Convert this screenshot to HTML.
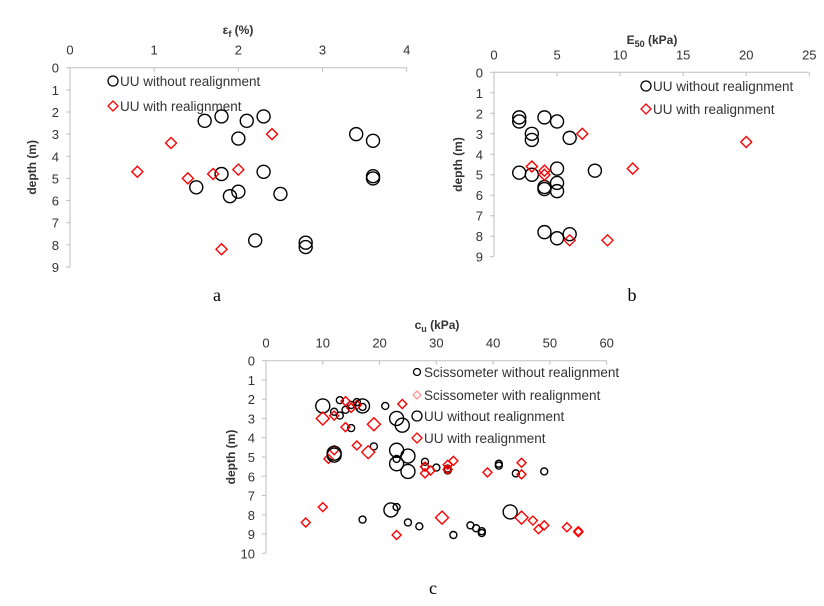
<!DOCTYPE html>
<html><head><meta charset="utf-8"><style>
body{margin:0;background:#fff;}
svg{display:block;font-family:"Liberation Sans",sans-serif;}
</style></head><body>
<svg id="fig" width="824" height="606"></svg>
<script>
// Chart a data
const aCircX=[1.6,1.8,2.1,2.3,2.0,3.4,3.6,2.3,1.8,3.6,3.6,1.5,2.0,1.9,2.5,2.2,2.8,2.8];
const aCircY=[2.4,2.2,2.4,2.2,3.2,3.0,3.3,4.7,4.8,4.9,5.0,5.4,5.6,5.8,5.7,7.8,7.9,8.1];
const aDiaX=[2.4,1.2,0.8,1.4,1.7,2.0,1.8];
const aDiaY=[3.0,3.4,4.7,5.0,4.8,4.6,8.2];
const aXTicks=[0,1,2,3,4];
const aYTicks=[0,1,2,3,4,5,6,7,8,9];
// Chart b data
const bCircX=[2,2,4,5,3,3,6,2,3,5,8,5,4,4,5,4,6,5];
const bCircY=[2.2,2.4,2.2,2.4,3.0,3.3,3.2,4.9,5.0,4.7,4.8,5.4,5.6,5.7,5.8,7.8,7.9,8.1];
const bDiaX=[7,20,3,4,4,11,6,9];
const bDiaY=[3.0,3.4,4.6,4.8,5.0,4.7,8.2,8.2];
const bXTicks=[0,5,10,15,20,25];
const bYTicks=[0,1,2,3,4,5,6,7,8,9];
// Chart c data
const cSciX=[13,16,15,17,12,14,13,15,21,19,23,28,28,30,32,32,41,41,44,49,23,17,25,27,36,37,38,38,33];
const cSciY=[2.05,2.15,2.3,2.4,2.65,2.55,2.85,3.5,2.35,4.45,5.1,5.25,5.5,5.55,5.6,5.7,5.35,5.45,5.85,5.75,7.6,8.25,8.4,8.6,8.55,8.7,8.85,8.95,9.05];
const cSciRX=[14,15,16,24,12,14,16,11,12,28,29,28,32,33,32,39,45,45,10,7,23,47,48,49,53,55,55];
const cSciRY=[2.1,2.45,2.3,2.25,2.85,3.45,4.4,5.1,4.65,5.5,5.7,5.85,5.4,5.2,5.65,5.8,5.3,5.9,7.6,8.4,9.05,8.3,8.75,8.55,8.65,8.85,8.9];
const cUUX=[10,17,23,24,12,12,23,25,23,25,22,43];
const cUUY=[2.35,2.35,3.0,3.35,4.8,4.9,4.65,4.95,5.35,5.75,7.75,7.85];
const cUURX=[10,19,18,31,45];
const cUURY=[3.0,3.3,4.75,8.15,8.15];
const cXTicks=[0,10,20,30,40,50,60];
const cYTicks=[0,1,2,3,4,5,6,7,8,9,10];

const NS="http://www.w3.org/2000/svg";
const svg=document.getElementById('fig');
function mk(tag,attrs,parent){const e=document.createElementNS(NS,tag);for(const k in attrs)e.setAttribute(k,attrs[k]);(parent||svg).appendChild(e);return e;}
function txt(parent,x,y,s,opts){const t=mk('text',Object.assign({x:x,y:y,'font-size':13,fill:'#333'},opts||{}),parent);t.textContent=s;return t;}

function chart(cfg){
  const g=mk('g',{});
  
  
  const sx=v=>cfg.x0+(v-cfg.xmin)/(cfg.xmax-cfg.xmin)*(cfg.x1-cfg.x0);
  const sy=v=>cfg.y0+(v-cfg.ymin)/(cfg.ymax-cfg.ymin)*(cfg.y1-cfg.y0);
  const ax=mk('g',{},g);
  
  
  mk('line',{x1:cfg.x0,y1:cfg.y0,x2:cfg.x1,y2:cfg.y0,stroke:'#bfbfbf','stroke-width':1},ax);
  cfg.xt.forEach(v=>{mk('line',{x1:sx(v),y1:cfg.y0,x2:sx(v),y2:cfg.y0+4,stroke:'#bfbfbf'},ax);
    const t=txt(ax,sx(v),cfg.y0-13,String(v),{'text-anchor':'middle'});
    
    });
  const ay=mk('g',{},g);
  
  
  mk('line',{x1:cfg.x0,y1:cfg.y0,x2:cfg.x0,y2:cfg.y1,stroke:'#bfbfbf'},ay);
  cfg.yt.forEach(v=>{mk('line',{x1:cfg.x0-4,y1:sy(v),x2:cfg.x0,y2:sy(v),stroke:'#bfbfbf'},ay);
    const t=txt(ay,cfg.x0-11,sy(v)+5,String(v),{'text-anchor':'end'});
    
    });
  const xt=mk('text',{x:cfg.titleX,y:cfg.titleY,'font-size':12,'font-weight':'bold','text-anchor':'middle',fill:'#333'},g);
  xt.innerHTML=cfg.title;
  
  
  const yt=txt(g,0,0,'depth (m)',{'font-size':12,'font-weight':'bold','text-anchor':'middle',transform:`translate(${cfg.ytX},${(cfg.y0+cfg.y1)/2}) rotate(-90)`});
  
  
  const lab=mk('text',{x:cfg.labX,y:cfg.labY,'font-size':18,'font-family':'Liberation Serif, serif','text-anchor':'middle',fill:'#000'},g);
  lab.textContent=cfg.lab;
  
  
  cfg.series.forEach(s=>{
    const sg=mk('g',{},g);
    
    
    s.xs.forEach((xv,i)=>{
      const px=sx(xv),py=sy(s.ys[i]);let m;
      if(s.shape==='c')m=mk('circle',{cx:px,cy:py,r:s.r,fill:'none',stroke:s.color,'stroke-width':1.4},sg);
      else m=mk('path',{d:`M${px} ${py-s.r}L${px+s.r} ${py}L${px} ${py+s.r}L${px-s.r} ${py}Z`,fill:'none',stroke:s.color,'stroke-width':1.4},sg);
      
      
    });
    const lg=mk('g',{},g);
    
    
    const lx=s.lx,ly=s.ly,lr=s.lr||5;
    if(s.shape==='c')mk('circle',{cx:lx,cy:ly,r:lr,fill:'none',stroke:s.lcolor||s.color,'stroke-width':1.3},lg);
    else mk('path',{d:`M${lx} ${ly-lr}L${lx+lr} ${ly}L${lx} ${ly+lr}L${lx-lr} ${ly}Z`,fill:'none',stroke:s.lcolor||s.color,'stroke-width':1.3},lg);
    txt(lg,lx+7,ly+5,s.label,{'font-size':13.5});
  });
}

chart({name:'chart-a',x0:70,x1:406.7,y0:67.7,y1:267,xmin:0,xmax:4,ymin:0,ymax:9,xt:aXTicks,yt:aYTicks,
  title:'ε<tspan font-size="9" dy="3">f</tspan><tspan dy="-3"> (%)</tspan>',titleX:238,titleY:34,ytX:36,labX:217,labY:301,lab:'a',
  series:[{name:'series-uu-without',shape:'c',color:'#000',r:6.5,xs:aCircX,ys:aCircY,lx:113,ly:81,label:'UU without realignment'},
          {name:'series-uu-with',shape:'d',color:'#f00',r:5.5,xs:aDiaX,ys:aDiaY,lx:113,ly:106,label:'UU with realignment'}]});

chart({name:'chart-b',x0:494,x1:809.3,y0:72.3,y1:256.7,xmin:0,xmax:25,ymin:0,ymax:9,xt:bXTicks,yt:bYTicks,
  title:'E<tspan font-size="9" dy="3">50</tspan><tspan dy="-3"> (kPa)</tspan>',titleX:652,titleY:44,ytX:462,labX:632,labY:301,lab:'b',
  series:[{name:'series-uu-without',shape:'c',color:'#000',r:6.5,xs:bCircX,ys:bCircY,lx:646,ly:86,label:'UU without realignment'},
          {name:'series-uu-with',shape:'d',color:'#f00',r:5.5,xs:bDiaX,ys:bDiaY,lx:646,ly:109,label:'UU with realignment'}]});

chart({name:'chart-c',x0:266,x1:606.7,y0:360.7,y1:553.3,xmin:0,xmax:60,ymin:0,ymax:10,xt:cXTicks,yt:cYTicks,
  title:'c<tspan font-size="9" dy="3">u</tspan><tspan dy="-3"> (kPa)</tspan>',titleX:437,titleY:329,ytX:235,labX:433,labY:594,lab:'c',
  series:[{name:'series-scissometer-without',shape:'c',color:'#000',r:3.5,lr:3.5,xs:cSciX,ys:cSciY,lx:417,ly:372,label:'Scissometer without realignment'},
          {name:'series-scissometer-with',shape:'d',color:'#f00',r:4.5,lr:4,lcolor:'#f99',xs:cSciRX,ys:cSciRY,lx:417,ly:395,label:'Scissometer with realignment'},
          {name:'series-uu-without',shape:'c',color:'#000',r:7,lr:5,xs:cUUX,ys:cUUY,lx:417,ly:416,label:'UU without realignment'},
          {name:'series-uu-with',shape:'d',color:'#f00',r:6.5,lr:5,xs:cUURX,ys:cUURY,lx:417,ly:438,label:'UU with realignment'}]});
</script>
</body></html>
